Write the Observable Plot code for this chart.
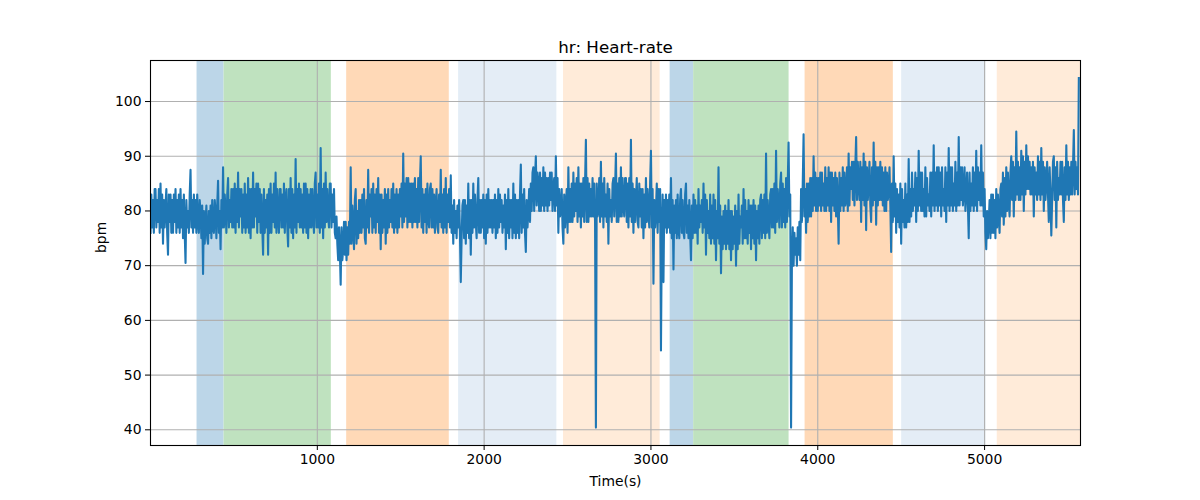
<!DOCTYPE html>
<html>
<head>
<meta charset="utf-8">
<script src="https://cdn.jsdelivr.net/npm/d3@7"></script>
<script src="https://cdn.jsdelivr.net/npm/@observablehq/plot@0.6"></script>
<style>
  html, body { margin: 0; padding: 0; background: #fff; }
  #chart svg { display: block; }
</style>
</head>
<body>
<div id="chart"></div>
<script>
// ---- Data ----
const title = "hr: Heart-rate";
const xLabel = "Time(s)";
const yLabel = "bpm";
const sampleStep = 5; // seconds between samples; one row = 60 s
const hrValues = [
  76, 83, 77, 82, 76, 84, 84, 77, 82, 78, 84, 76,
  85, 77, 83, 74, 82, 77, 81, 84, 76, 72, 83, 78,
  83, 76, 82, 76, 83, 78, 84, 76, 82, 77, 83, 76,
  84, 77, 82, 75, 83, 76, 70.5, 82, 77, 80, 76, 83,
  87.5, 77, 82, 76, 83, 77, 82, 76, 83, 78, 76, 82,
  80, 75, 81, 68.5, 80, 74, 78, 81, 75, 74, 80, 76,
  81, 75, 82, 77, 76, 82, 80, 75, 81, 85.5, 76, 80,
  73, 82, 77, 88, 77, 83, 80, 76, 83, 86, 77, 82,
  78, 84, 77, 84, 77, 85, 76, 84, 78, 87, 77, 84,
  79, 84, 76, 83, 77, 85, 76, 83, 77, 86, 76, 84,
  75, 84, 77, 87, 77, 84, 79, 85, 76, 85, 78, 84,
  76, 83, 77, 72, 84, 76, 82, 77, 83, 72, 84, 76,
  85, 76, 83, 78, 85, 77, 87, 76, 84, 79, 76, 84,
  84, 77, 83, 77, 85, 76, 82, 84, 77, 73.5, 84, 77,
  86, 76, 84, 75, 83, 77, 89.5, 76, 84, 78, 85, 77,
  84, 77, 83, 76, 85, 77, 85, 76, 84, 75, 83, 77,
  84, 77, 84, 79, 76, 85, 87, 77, 83, 77, 85, 76,
  91.5, 77, 84, 75, 85, 77, 87, 78, 84, 79, 77, 85,
  85, 77, 83, 78, 84, 76, 75, 79, 74, 71, 77, 73,
  66.5, 77, 71, 73, 78, 72, 78, 71, 77, 72, 78, 74,
  88, 74, 81, 77, 73, 82, 84, 74, 80, 75, 82, 76,
  82, 76, 83, 77, 84, 75, 74, 82, 77, 87.5, 76, 83,
  79, 84, 76, 85, 77, 83, 76, 84, 78, 86, 76, 83,
  73, 83, 76, 82, 77, 84, 74, 83, 76, 84, 77, 82,
  78, 84, 77, 85, 76, 83, 77, 84, 76, 83, 77, 84,
  79, 85, 77, 90.5, 78, 85, 79, 86, 77, 86, 78, 85,
  78, 85, 77, 85, 78, 86, 78, 84, 77, 86, 78, 85,
  90, 77, 84, 76, 83, 78, 84, 76, 85, 79, 77, 84,
  85, 77, 84, 77, 83, 76, 81, 84, 77, 76, 83, 78,
  87.5, 77, 83, 76, 84, 77, 86, 76, 83, 78, 84, 77,
  86.5, 76, 81, 74, 82, 76, 80, 75, 81, 77, 82, 76,
  67, 75, 81, 82, 75, 82, 74, 81, 76, 85, 75, 82,
  72, 82, 76, 85, 77, 83, 78, 75, 82, 86, 76, 82,
  76, 82, 77, 83, 75, 82, 74, 83, 76, 84, 77, 82,
  77, 82, 76, 82, 77, 83, 75, 82, 76, 84, 77, 83,
  78, 82, 76, 81, 77, 83, 73, 82, 76, 84, 75, 82,
  77, 82, 75, 85, 76, 83, 75, 82, 76, 82, 75, 83,
  88.5, 76, 83, 77, 84, 76, 72.5, 82, 77, 80, 84, 78,
  85, 80, 87, 88, 80, 86, 90, 81, 87, 85, 80, 87,
  80, 86, 81, 88, 80, 87, 81, 86, 80, 86, 81, 87,
  82, 87, 80, 84, 86, 80, 90, 81, 86, 76, 84, 79,
  80, 84, 77, 74, 83, 77, 81, 84, 76, 88, 78, 84,
  78, 85, 78, 87, 79, 85, 80, 86, 78, 88, 79, 85,
  77, 85, 79, 86, 78, 85, 93, 78, 86, 78, 85, 79,
  84, 79, 86, 79, 85, 78, 40.4, 85, 79, 80, 86, 78,
  89, 79, 85, 77, 86, 79, 83, 78, 85, 74, 84, 79,
  82, 78, 85, 86, 79, 84, 90.5, 78, 85, 78, 86, 79,
  88, 79, 86, 81, 79, 86, 86, 78, 85, 77, 86, 79,
  93, 78, 85, 76, 84, 78, 82, 86, 78, 77, 85, 79,
  84, 77, 84, 75, 83, 77, 86, 78, 84, 80, 77, 85,
  91, 77, 84, 66.7, 82, 77, 80, 85, 76, 84, 78, 84,
  54.5, 76, 83, 67, 82, 77, 83, 76, 82, 77, 83, 76,
  86, 75, 82, 69.3, 81, 76, 82, 75, 83, 77, 75, 82,
  84, 76, 82, 76, 75, 83, 85, 76, 81, 75, 82, 76,
  71, 81, 75, 83, 76, 82, 76, 81, 74, 84, 77, 81,
  78, 82, 76, 85, 77, 83, 72, 82, 76, 80, 75, 83,
  74, 81, 75, 83, 74, 82, 71, 80, 75, 88, 74, 81,
  68.6, 79, 73, 80, 74, 81, 73, 80, 74, 82, 73, 80,
  71, 80, 73, 79, 74, 81, 70, 80, 73, 83, 74, 79,
  77, 81, 74, 84, 75, 82, 75, 80, 74, 82, 76, 81,
  73, 81, 75, 82, 74, 81, 71, 80, 75, 81, 74, 82,
  83, 75, 82, 76, 83, 75, 90.5, 76, 82, 78, 75, 83,
  84, 77, 84, 77, 85, 76, 91, 78, 84, 81, 77, 85,
  87, 77, 85, 78, 84, 77, 86, 78, 85, 92.5, 79, 83,
  40.4, 71, 77, 70, 76, 72, 75, 70, 77, 72, 78, 71,
  84, 78, 85, 94, 79, 84, 76, 85, 78, 85, 79, 86,
  79, 86, 80, 90, 81, 87, 80, 86, 80, 86, 81, 87,
  80, 87, 81, 85, 80, 88, 80, 86, 81, 88, 80, 87,
  78, 87, 81, 86, 80, 87, 79, 86, 81, 74, 87, 80,
  86, 81, 88, 80, 87, 81, 82, 88, 80, 90.5, 81, 88,
  84, 89, 82, 89, 81, 88, 93.5, 82, 89, 85, 82, 89,
  78, 88, 82, 90.5, 81, 89, 76.5, 88, 82, 85, 89, 81,
  78, 88, 81, 92.5, 82, 89, 77.5, 88, 81, 88, 82, 89,
  82, 88, 81, 87, 80, 88, 80, 87, 82, 84, 88, 81,
  72.5, 85, 78, 90, 79, 85, 76, 84, 78, 83, 77, 85,
  74, 84, 78, 82, 77, 85, 77, 83, 78, 89.5, 78, 84,
  79, 87, 80, 84, 81, 87, 78, 86, 80, 91, 81, 87,
  80, 87, 80, 84, 79, 88, 79, 86, 81, 83, 80, 87,
  79, 87, 81, 92, 80, 87, 81, 88, 80, 88, 81, 87,
  79, 88, 81, 84, 80, 88, 78, 87, 81, 91.5, 80, 88,
  81, 88, 80, 85, 81, 89, 80, 87, 81, 93.5, 81, 88,
  82, 88, 81, 84, 88, 80, 83, 87, 81, 75, 87, 80,
  85, 81, 88, 80, 87, 81, 91, 80, 88, 82, 87, 81,
  92, 81, 87, 79, 84, 76, 73, 80, 75, 78, 82, 75,
  83, 76, 83, 76, 82, 75, 84, 77, 83, 79, 76, 84,
  85, 79, 87, 77.5, 86, 79, 88, 80, 87, 82, 79, 87,
  90, 82, 89, 79, 88, 82, 94.5, 83, 89, 82, 88, 82,
  91, 83, 90, 80, 89, 83, 92, 84, 90, 84, 89, 83,
  88, 83, 89, 79, 88, 83, 87, 82, 90, 83, 89, 82,
  91.5, 83, 89, 80, 88, 82, 85, 89, 83, 78, 88, 83,
  75.5, 82, 89, 90, 82, 88, 77, 89, 82, 86, 83, 89,
  83, 89, 82, 78, 88, 82, 92, 83, 89, 82, 88, 83,
  89, 83, 88, 94.8, 83, 89, 84, 88, 83, 104.3
];
const bandStart = [279, 441, 1176, 1847, 2476, 3115, 3256, 3924, 4503, 5076];
const bandEnd   = [441, 1084, 1791, 2436, 3055, 3256, 3828, 4453, 5008, 5575];
const bandKind  = ["blue", "green", "orange", "lightblue", "lightorange",
                   "blue", "green", "orange", "lightblue", "lightorange"];
const bandColors = {
  blue: "#bcd6e8", green: "#bfe2bf", orange: "#ffd9b7",
  lightblue: "#e4edf6", lightorange: "#ffebd9"
};
const xTicks = [1000, 2000, 3000, 4000, 5000];
const yTicks = [40, 50, 60, 70, 80, 90, 100];
const xDomain = [0, 5575];
const yDomain = [37.13, 107.5];

// ---- Build tables ----
const series = hrValues.map((v, i) => ({t: i * sampleStep, hr: v}));
const bands = bandStart.map((s, i) => ({x1: s, x2: bandEnd[i], kind: bandKind[i]}));

const font = "DejaVu Sans, Liberation Sans, sans-serif";
const blue = "#1f77b4";

const chart = Plot.plot({
  width: 1200,
  height: 500,
  marginLeft: 150,
  marginRight: 120,
  marginTop: 60,
  marginBottom: 55,
  style: {fontFamily: font, fontSize: "13.9px", color: "#000", background: "#fff"},
  x: {domain: xDomain},
  y: {domain: yDomain},
  marks: [
    Plot.rect(bands, {x1: "x1", x2: "x2", fill: d => bandColors[d.kind], inset: 0}),
    Plot.gridX(xTicks, {stroke: "#b0b0b0", strokeOpacity: 1, strokeWidth: 1.1}),
    Plot.gridY(yTicks, {stroke: "#b0b0b0", strokeOpacity: 1, strokeWidth: 1.1}),
    Plot.line(series, {x: "t", y: "hr", stroke: blue, strokeWidth: 2.1, strokeLinejoin: "round", strokeLinecap: "square", clip: true}),
    Plot.axisX(xTicks, {label: null, tickSize: 5, tickPadding: 4, fontSize: 13.9, stroke: "#000", tickFormat: d3.format("d")}),
    Plot.axisY(yTicks, {label: null, tickSize: 5, tickPadding: 4, fontSize: 13.9, stroke: "#000", tickFormat: d3.format("d")}),
    Plot.frame({stroke: "#000", strokeWidth: 1.1}),
    Plot.text([title], {frameAnchor: "top", lineAnchor: "bottom", dy: -8, fontSize: 16.7, fill: "#000"}),
    Plot.text([xLabel], {frameAnchor: "bottom", lineAnchor: "middle", dy: 36, fontSize: 13.9, fill: "#000"}),
    Plot.text([yLabel], {frameAnchor: "left", lineAnchor: "middle", dx: -49, rotate: -90, fontSize: 13.9, fill: "#000"})
  ]
});
document.getElementById("chart").appendChild(chart);
</script>
</body>
</html>
